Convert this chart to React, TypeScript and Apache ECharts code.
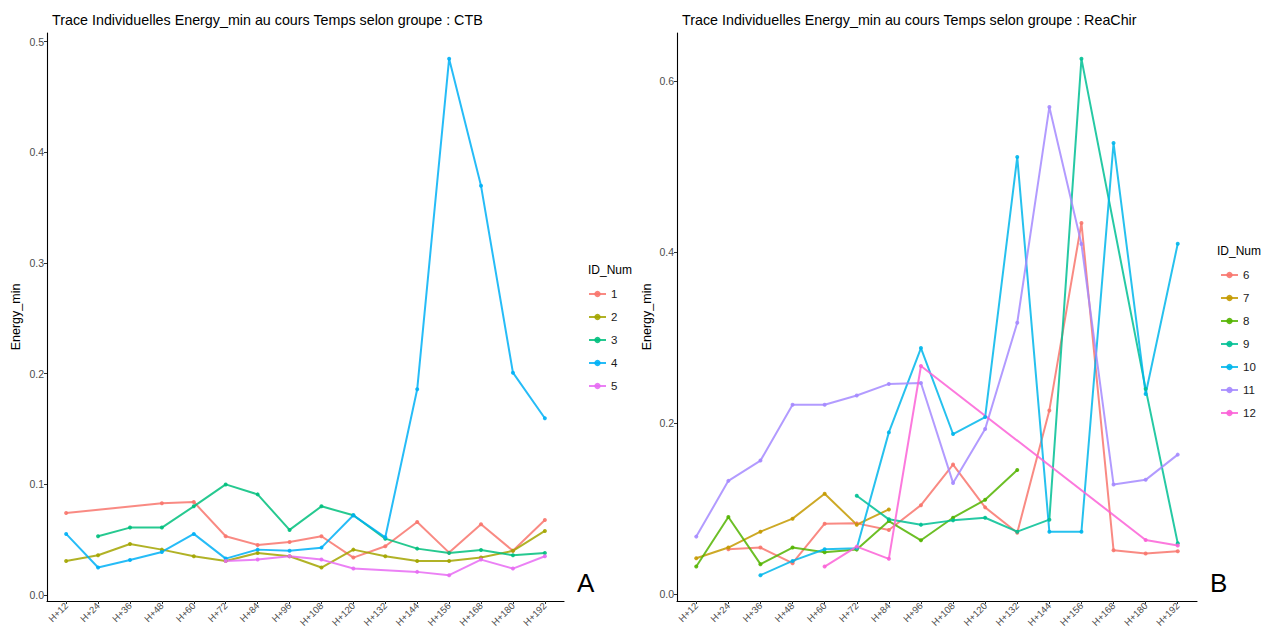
import React, { useEffect, useRef } from "react";
import * as echarts from "echarts";

const categories = ["H+12", "H+24", "H+36", "H+48", "H+60", "H+72", "H+84", "H+96", "H+108", "H+120", "H+132", "H+144", "H+156", "H+168", "H+180", "H+192"];

// Group CTB
const id1 = [0.0742, null, null, 0.0829, 0.0841, 0.0532, 0.0453, 0.048, 0.0532, 0.0339, 0.0441, 0.066, 0.0384, 0.064, 0.04, 0.0679];
const id2 = [0.0309, 0.036, 0.0462, 0.0411, 0.0351, 0.0309, 0.0381, 0.0351, 0.0249, 0.0411, 0.0351, 0.0309, 0.0309, 0.0339, 0.04, 0.058];
const id3 = [null, 0.0532, 0.061, 0.061, 0.0802, 0.1, 0.091, 0.0589, 0.0802, 0.0721, 0.051, 0.042, 0.0381, 0.0408, 0.036, 0.0381];
const id4 = [0.0553, 0.0249, 0.0318, 0.039, 0.0553, 0.033, 0.0411, 0.04, 0.0429, 0.0721, 0.0523, 0.1859, 0.4844, 0.3697, 0.2009, 0.1598];
const id5 = [null, null, null, null, null, 0.0309, 0.0321, 0.0351, 0.0321, 0.024, null, 0.021, 0.018, 0.0321, 0.024, 0.0351];

// Group ReaChir
const id6 = [null, 0.0524, 0.0544, 0.0361, 0.0823, 0.0827, 0.075, 0.104, 0.1515, 0.1014, 0.0718, 0.2148, 0.434, 0.0513, 0.0474, 0.0501];
const id7 = [0.0419, 0.0544, 0.073, 0.0882, 0.1173, 0.0812, 0.099, null, null, null, null, null, null, null, null, null];
const id8 = [0.0322, 0.0901, 0.035, 0.0544, 0.0489, 0.052, 0.0854, 0.0629, 0.0893, 0.1103, 0.1452, null, null, null, null, null];
const id9 = [null, null, null, null, null, 0.115, 0.0874, 0.0812, 0.0862, 0.0893, 0.073, 0.087, 0.626, null, 0.24, 0.0594];
const id10 = [null, null, 0.0221, 0.0388, 0.0524, 0.0536, 0.1891, 0.2877, 0.1872, 0.207, 0.5111, 0.073, 0.073, 0.5275, 0.234, 0.4097];
const id11 = [0.0672, 0.1324, 0.1561, 0.2214, 0.2214, 0.2322, 0.2458, 0.2468, 0.13, 0.193, 0.3173, 0.5696, 0.4094, 0.1282, 0.1336, 0.1631];
const id12 = [null, null, null, null, 0.0322, 0.0555, 0.0412, 0.2667, null, null, null, null, null, null, 0.0633, 0.0567];

const leftNames = ["1", "2", "3", "4", "5"];
const leftValues = [id1, id2, id3, id4, id5];
const leftColors = ["#F8766D", "#A3A500", "#00BF7D", "#00B0F6", "#E76BF3"];

const rightNames = ["6", "7", "8", "9", "10", "11", "12"];
const rightValues = [id6, id7, id8, id9, id10, id11, id12];
const rightColors = ["#F8766D", "#C49A00", "#53B400", "#00C094", "#00B6EB", "#A58AFF", "#FB61D7"];

const leftTicks = [0, 0.1, 0.2, 0.3, 0.4, 0.5];
const rightTicks = [0, 0.2, 0.4, 0.6];

const titleLeft = "Trace Individuelles Energy_min au cours Temps selon groupe : CTB";
const titleRight = "Trace Individuelles Energy_min au cours Temps selon groupe : ReaChir";
const yName = "Energy_min";
const legendTitle = "ID_Num";

const FONT = "Liberation Sans, Arial, Helvetica, sans-serif";

function toPairs(vals: (number | null)[]) {
  const out: [number, number][] = [];
  vals.forEach((v, i) => {
    if (v !== null) out.push([i + 1, v]);
  });
  return out;
}

function makeX(gridIndex: number) {
  const pos = categories.map((_, i) => i + 1);
  return {
    type: "value",
    gridIndex,
    min: 0.4,
    max: categories.length + 0.6,
    splitLine: { show: false },
    axisLine: { show: true, onZero: false, lineStyle: { color: "#000", width: 1.1 } },
    axisTick: { show: true, length: 3, customValues: pos, lineStyle: { color: "#333" } },
    axisLabel: {
      customValues: pos,
      rotate: 45,
      margin: 3,
      fontSize: 9.5,
      color: "#4D4D4D",
      fontFamily: FONT,
      formatter: (v: number) => categories[Math.round(v) - 1] ?? "",
    },
  };
}

function makeY(gridIndex: number, min: number, max: number, ticks: number[], gap: number) {
  return {
    type: "value",
    gridIndex,
    min,
    max,
    name: yName,
    nameLocation: "middle",
    nameRotate: 90,
    nameGap: gap,
    nameTextStyle: { fontSize: 12.5, color: "#000", fontFamily: FONT },
    splitLine: { show: false },
    axisLine: { show: true, onZero: false, lineStyle: { color: "#000", width: 1.1 } },
    axisTick: { show: true, length: 3, customValues: ticks, lineStyle: { color: "#333" } },
    axisLabel: {
      customValues: ticks,
      margin: 3,
      fontSize: 10.5,
      color: "#4D4D4D",
      fontFamily: FONT,
      formatter: (v: number) => v.toFixed(1),
    },
  };
}

function makeSeries(names: string[], values: (number | null)[][], colors: string[], axisIndex: number) {
  return names.map((name, k) => ({
    name,
    type: "line",
    xAxisIndex: axisIndex,
    yAxisIndex: axisIndex,
    data: toPairs(values[k]),
    symbol: "circle",
    symbolSize: 4,
    itemStyle: { color: colors[k], opacity: 0.9 },
    lineStyle: { color: colors[k], width: 2, opacity: 0.85 },
    emphasis: { disabled: true },
  }));
}

export default function App() {
  const ref = useRef<HTMLDivElement>(null);

  useEffect(() => {
    document.body.style.margin = "0";
    if (!ref.current) return;
    const chart = echarts.init(ref.current, undefined, { renderer: "svg" });
    const titleStyle = { fontSize: 14.3, fontWeight: "normal", color: "#000", fontFamily: FONT };
    const legTitleStyle = { fontSize: 12, fontWeight: "normal", color: "#000", fontFamily: FONT };
    const option = {
      animation: false,
      backgroundColor: "#fff",
      textStyle: { fontFamily: FONT },
      title: [
        { text: titleLeft, left: 47, top: 8, textStyle: titleStyle },
        { text: titleRight, left: 677, top: 8, textStyle: titleStyle },
        { text: legendTitle, left: 583, top: 259, textStyle: legTitleStyle },
        { text: legendTitle, left: 1212, top: 240, textStyle: legTitleStyle },
      ],
      grid: [
        { left: 47, width: 517, top: 33, bottom: 27, containLabel: false, outerBoundsMode: "none" },
        { left: 677, width: 520, top: 33, bottom: 27, containLabel: false, outerBoundsMode: "none" },
      ],
      xAxis: [makeX(0), makeX(1)],
      yAxis: [
        makeY(0, -0.0053, 0.5077, leftTicks, 25),
        makeY(1, -0.0081, 0.6562, rightTicks, 24),
      ],
      legend: [
        {
          data: leftNames,
          orient: "vertical",
          left: 583,
          top: 283,
          itemWidth: 17,
          itemHeight: 8,
          itemGap: 11,
          textStyle: { fontSize: 11.5, color: "#1a1a1a", fontFamily: FONT },
          selectedMode: false,
        },
        {
          data: rightNames,
          orient: "vertical",
          left: 1215,
          top: 264,
          itemWidth: 17,
          itemHeight: 8,
          itemGap: 11,
          textStyle: { fontSize: 11.5, color: "#1a1a1a", fontFamily: FONT },
          selectedMode: false,
        },
      ],
      graphic: [
        { type: "text", left: 577, top: 570, style: { text: "A", fontSize: 26, fill: "#000", fontFamily: FONT } },
        { type: "text", left: 1210, top: 570, style: { text: "B", fontSize: 26, fill: "#000", fontFamily: FONT } },
      ],
      series: [
        ...makeSeries(leftNames, leftValues, leftColors, 0),
        ...makeSeries(rightNames, rightValues, rightColors, 1),
      ],
    };
    chart.setOption(option as any);
    return () => chart.dispose();
  }, []);

  return <div ref={ref} style={{ width: 1261, height: 628 }} />;
}
